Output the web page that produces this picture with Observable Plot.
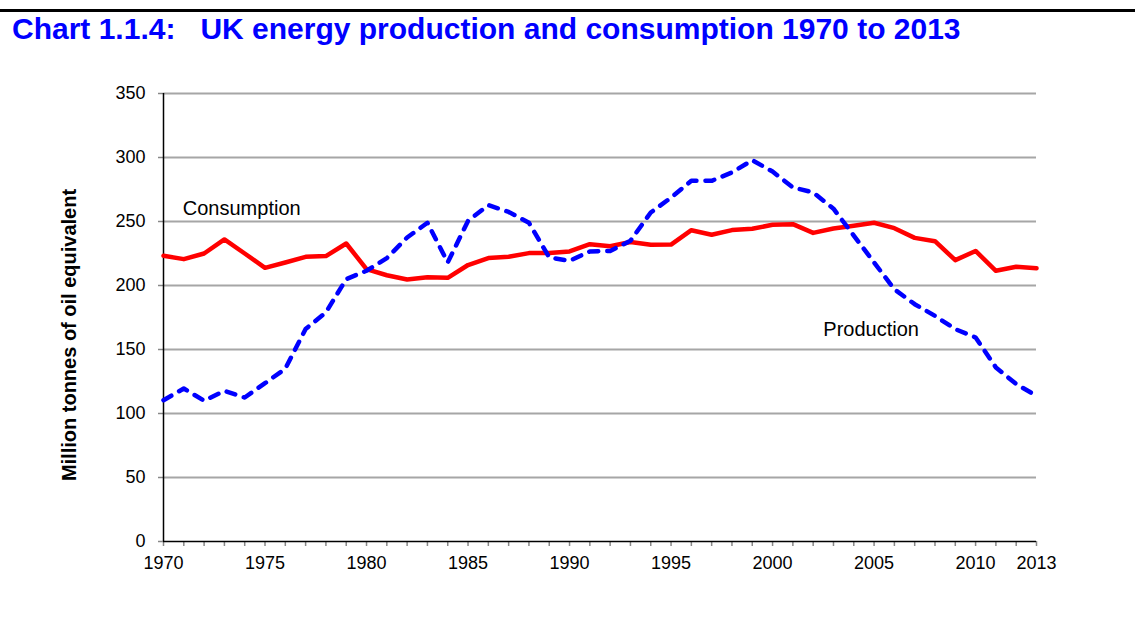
<!DOCTYPE html>
<html><head><meta charset="utf-8">
<script src="https://cdn.jsdelivr.net/npm/d3@7"></script>
<script src="https://cdn.jsdelivr.net/npm/@observablehq/plot@0.6"></script>
<style>
body{margin:0;background:#fff;width:1135px;height:632px;position:relative;overflow:hidden;font-family:"Liberation Sans",Arial,sans-serif;}
#rule{position:absolute;left:0;top:9px;width:1135px;height:3px;background:#000;}
#title{position:absolute;left:12px;top:14px;margin:0;font-size:30px;line-height:30px;font-weight:bold;color:#0000ff;white-space:pre;}
#chart{position:absolute;left:0;top:60px;}
</style></head><body>
<div id="rule"></div>
<h1 id="title">Chart 1.1.4:   UK energy production and consumption 1970 to 2013</h1>
<div id="chart"></div>
<script>
const years = [1970,1971,1972,1973,1974,1975,1976,1977,1978,1979,1980,1981,1982,1983,1984,1985,1986,1987,1988,1989,1990,1991,1992,1993,1994,1995,1996,1997,1998,1999,2000,2001,2002,2003,2004,2005,2006,2007,2008,2009,2010,2011,2012,2013];
const consumption = [223.2,220.6,225,236,225,213.8,218,222.4,223,232.8,212.8,208,204.7,206.5,206,216,221.4,222.4,225.3,225.3,226.6,232.3,230.7,234,231.8,232,243.2,239.6,243.3,244.3,247.4,247.9,241.1,244.5,246.6,249,244.8,237.2,234.6,219.8,227,211.5,214.6,213.5];
const production = [110.4,119.5,110,117.7,112.5,123.7,135,166,179,205,211.5,221.4,237.5,249,218,250.5,262.8,257.5,249,221.9,219.3,226.6,227,235,257,268.7,281.8,281.8,288.3,297.9,289,276.6,272.7,260,239,218,197,185.4,176.3,165.9,159.4,136,123,113.8];
const yTicks = [0,50,100,150,200,250,300,350];
const gridTicks = [50,100,150,200,250,300,350];
const xLabelYears = [1970,1975,1980,1985,1990,1995,2000,2005,2010,2013];
const seriesLabels = ["Consumption","Production"];
const labelYears = [1970.95, 2002.5];
const labelValues = [260, 165.6];
const yAxisTitle = "Million tonnes of oil equivalent";

const font = '"Liberation Sans", Arial, sans-serif';
const plot = Plot.plot({
  width: 1135,
  height: 572,
  marginLeft: 163,
  marginRight: 99,
  marginTop: 33,
  marginBottom: 91,
  style: {fontFamily: font, fontSize: "18px", color: "#000", background: "#fff"},
  x: {domain: [1970, 2013], label: null},
  y: {domain: [0, 350], label: null},
  marks: [
    Plot.gridY(gridTicks, {stroke: "#a6a6a6", strokeOpacity: 1, strokeWidth: 2}),
    Plot.axisY(yTicks, {tickSize: 5, tickPadding: 13, stroke: "#888", strokeWidth: 1.5, fill: "#000", fontSize: 18, label: null}),
    Plot.axisX(years, {tickSize: 5, tickPadding: 10, stroke: "#888", strokeWidth: 1.5, fill: "#000", fontSize: 18, label: null,
      tickFormat: d => xLabelYears.includes(d) ? String(d) : ""}),
    Plot.ruleX([1970], {stroke: "#000", strokeWidth: 1.5}),
    Plot.ruleY([0], {stroke: "#000", strokeWidth: 1.5}),
    Plot.line(consumption, {x: (d, i) => years[i], y: d => d, stroke: "#ff0000", strokeWidth: 4.5, strokeLinejoin: "round"}),
    Plot.line(production, {x: (d, i) => years[i], y: d => d, stroke: "#0000ff", strokeWidth: 4.5, strokeDasharray: "9,9", strokeLinecap: "round", strokeLinejoin: "round"}),
    Plot.text(seriesLabels, {x: (d, i) => labelYears[i], y: (d, i) => labelValues[i], text: d => d, textAnchor: "start", fontSize: 20, fill: "#000"})
  ]
});
const svg = d3.select(plot);
svg.append("text")
  .attr("transform", "translate(76,275) rotate(-90)")
  .attr("text-anchor", "middle")
  .attr("font-family", font)
  .attr("font-size", 20)
  .attr("font-weight", "bold")
  .attr("fill", "#000")
  .text(yAxisTitle);
document.getElementById("chart").appendChild(plot);
</script>
</body></html>
